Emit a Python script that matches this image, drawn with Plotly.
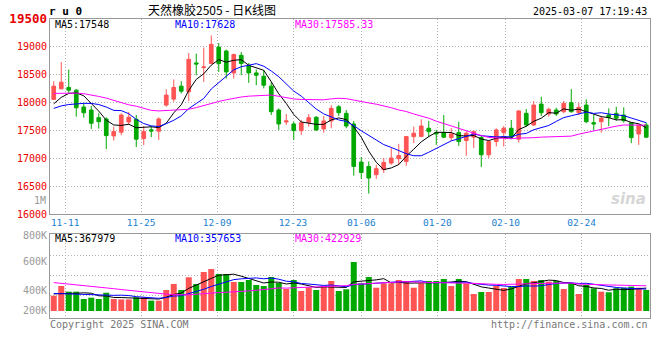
import plotly.graph_objects as go

# ---------------- data ----------------
dates = ["11-07", "11-08",
         "11-11", "11-12", "11-13", "11-14", "11-15",
         "11-18", "11-19", "11-20", "11-21", "11-22",
         "11-25", "11-26", "11-27", "11-28", "11-29",
         "12-02", "12-03", "12-04", "12-05", "12-06",
         "12-09", "12-10", "12-11", "12-12", "12-13",
         "12-16", "12-17", "12-18", "12-19", "12-20",
         "12-23", "12-24", "12-25", "12-26", "12-27",
         "12-30", "12-31", "01-02", "01-03",
         "01-06", "01-07", "01-08", "01-09", "01-10",
         "01-13", "01-14", "01-15", "01-16", "01-17",
         "01-20", "01-21", "01-22", "01-23", "01-24",
         "01-27", "02-05", "02-06", "02-07",
         "02-10", "02-11", "02-12", "02-13", "02-14",
         "02-17", "02-18", "02-19", "02-20", "02-21",
         "02-24", "02-25", "02-26", "02-27", "02-28",
         "03-03", "03-04", "03-05", "03-06", "03-07"]

opens = [18057, 18246, 18271, 18223, 17920, 17866, 17729, 17705, 17402, 17468,
         17652, 17700, 17354, 17510, 17486, 17955, 18062, 18295, 18193, 18711,
         18629, 18700, 18996, 18925, 18532, 18848, 18657, 18532, 18473, 18295,
         17866, 17652, 17616, 17497, 17647, 17736, 17527, 17670, 17925, 17807,
         17616, 16932, 16854, 16705, 16795, 16914, 16993, 16943, 17389, 17393,
         17539, 17461, 17461, 17371, 17461, 17318, 17379, 17371, 17063, 17300,
         17461, 17539, 17343, 17807, 17598, 17973, 17795, 17866, 17836, 17996,
         17818, 17955, 17639, 17657, 17777, 17807, 17777, 17639, 17437, 17598]
highs = [18384, 18729, 18593, 18241, 17996, 17938, 17807, 17736, 17568, 17807,
         17830, 17777, 17580, 17580, 17736, 18236, 18414, 18384, 18889, 18879,
         18986, 19205, 19068, 18950, 18879, 18907, 18711, 18593, 18580, 18371,
         17896, 17795, 17657, 17688, 17795, 17759, 17759, 17955, 17955, 17866,
         17670, 17021, 16943, 16884, 17004, 17182, 17259, 17389, 17568, 17700,
         17670, 17509, 17777, 17539, 17657, 17479, 17497, 17402, 17312, 17539,
         17580, 17688, 17866, 17884, 18027, 18104, 17907, 17907, 18032, 18241,
         17996, 18057, 17777, 17759, 17896, 17925, 17914, 17639, 17598, 17639]
lows = [18045, 18240, 18164, 17746, 17729, 17527, 17532, 17164, 17318, 17414,
        17598, 17200, 17236, 17380, 17330, 17925, 18014, 18164, 18027, 18491,
        18371, 18700, 18550, 18432, 18432, 18491, 18354, 18312, 18254, 17777,
        17509, 17598, 17330, 17420, 17568, 17491, 17461, 17539, 17759, 17539,
        16688, 16629, 16366, 16629, 16736, 16884, 16884, 16866, 17271, 17379,
        17379, 17241, 17361, 17312, 17223, 17045, 17182, 16843, 17004, 17211,
        17211, 17343, 17282, 17568, 17580, 17759, 17746, 17759, 17807, 17818,
        17777, 17629, 17497, 17461, 17580, 17675, 17639, 17271, 17241, 17361]
closes = [18295, 18366, 18223, 17907, 17818, 17629, 17657, 17407, 17479, 17777,
          17736, 17343, 17479, 17490, 17705, 18134, 18271, 18205, 18777, 18693,
          18639, 19045, 18700, 18550, 18861, 18700, 18532, 18491, 18312, 17836,
          17616, 17670, 17497, 17639, 17729, 17509, 17670, 17896, 17818, 17580,
          16854, 16746, 16646, 16813, 16925, 17004, 17050, 17389, 17450, 17580,
          17479, 17437, 17379, 17437, 17300, 17450, 17479, 17063, 17300, 17509,
          17539, 17379, 17848, 17598, 17955, 17818, 17879, 17795, 17986, 17836,
          17914, 17657, 17616, 17718, 17736, 17718, 17675, 17371, 17598, 17379]
volumes = [251000, 410000, 317000, 317000, 197000, 218000, 197000, 300000, 197000, 190000,
           190000, 225000, 225000, 170000, 170000, 344000, 443000, 344000, 553000, 443000,
           640000, 689000, 607000, 607000, 476000, 476000, 508000, 426000, 410000, 558000,
           459000, 361000, 508000, 328000, 389000, 344000, 410000, 492000, 328000, 356000,
           804000, 454000, 558000, 382000, 454000, 454000, 508000, 492000, 382000, 454000,
           492000, 492000, 525000, 410000, 525000, 454000, 279000, 312000, 312000, 410000,
           377000, 399000, 525000, 525000, 492000, 508000, 481000, 492000, 361000, 454000,
           279000, 426000, 372000, 317000, 307000, 372000, 382000, 399000, 382000, 344000]

# moving-average values before enough history is visible
ma5_early = [17979, 18093, 18164, 18175]
ma10_early = [17895, 17940, 17965, 17980, 17986, 17985, 17965, 17920, 17860]
ma30_early = [18164, 18170, 18175, 18170, 18160, 18140, 18110, 18080, 18040, 17990,
              17960, 17935, 17900, 17860, 17850, 17860, 17866, 17870, 17880, 17910,
              17950, 17990, 18020, 18050, 18080, 18100, 18115, 18125, 18134]
vma5_early = [280000, 288000, 290000, 290000]
vma10_early = [288000, 284000, 280000, 275000, 268000, 262000, 260000, 258000, 257000]
vma30_early = [466000, 455000, 444000, 433000, 421000, 408000, 394000, 380000, 366000, 352000,
               338000, 325000, 312000, 299000, 287000, 276000, 268000, 263000, 265000, 275000,
               287000, 296000, 302000, 307000, 312000, 320000, 330000, 340000, 350000]

date_tick_labels = ["11-11", "11-25", "12-09", "12-23", "01-06", "01-20", "02-10", "02-24"]
price_ticks = [16000, 16500, 17000, 17500, 18000, 18500, 19000, 19500]
vol_tick_labels = ["800K", "600K", "400K", "200K"]

title_text = "天然橡胶2505 - 日K线图"
symbol_text = "r u 0"
time_text = "2025-03-07 17:19:43"
ma_price_text = ["MA5:17548", "MA10:17628", "MA30:17585.33"]
ma_vol_text = ["MA5:367979", "MA10:357653", "MA30:422929"]

# ---------------- helpers ----------------
def moving_avg(vals, n, early):
    out = []
    for i in range(len(vals)):
        if i >= n - 1:
            out.append(sum(vals[i - n + 1:i + 1]) / n)
        else:
            out.append(early[i])
    return out

N = len(dates)
x = list(range(N))

W, H = 660, 360
ML, MR, MT, MB = 50, 10, 19, 42
PW = W - ML - MR
PH = H - MT - MB


def pxx(px):
    return (px - ML) / PW


def pxy(py):
    return (H - MB - py) / PH


RED = "#ff5454"
GREEN = "#00a800"
BLUE = "#0000ff"
MAG = "#ff00ff"
GRID = "#b4b4b4"
BORDER = "#999999"
MONO = "DejaVu Sans Mono"
CJK = "Noto Sans CJK SC"

# volume pane pixel scale
VOL_PER_PX = 16400.0
VOL_BASE_PY = 311.0


def vol_at(py):
    return (VOL_BASE_PY - py) * VOL_PER_PX


vol_range = [vol_at(318), vol_at(234.3)]
vol_tick_vals = [vol_at(235.5), vol_at(261), vol_at(290.3), vol_at(310)]
vol_grid_vals = [vol_at(255.3), vol_at(275.3), vol_at(295.7)]

# date grid positions (reference spaces them over N-1 steps)
date_pos = [dates.index(d) * N / (N - 1) - 0.5 for d in date_tick_labels]

ma5 = moving_avg(closes, 5, ma5_early)
ma10 = moving_avg(closes, 10, ma10_early)
ma30 = moving_avg(closes, 30, ma30_early)
vma5 = moving_avg(volumes, 5, vma5_early)
vma10 = moving_avg(volumes, 10, vma10_early)
vma30 = moving_avg(volumes, 30, vma30_early)

vol_colors = [RED if c >= o else GREEN for o, c in zip(opens, closes)]

fig = go.Figure()
fig.add_trace(go.Candlestick(
    x=x, open=opens, high=highs, low=lows, close=closes,
    increasing=dict(line=dict(color=RED, width=1), fillcolor=RED),
    decreasing=dict(line=dict(color=GREEN, width=1), fillcolor=GREEN),
    whiskerwidth=0, xaxis="x", yaxis="y", hoverinfo="skip"))
for ser, col in [(ma5, "#000000"), (ma10, BLUE), (ma30, MAG)]:
    fig.add_trace(go.Scatter(x=x, y=ser, mode="lines", line=dict(color=col, width=1),
                             xaxis="x", yaxis="y", hoverinfo="skip"))
fig.add_trace(go.Bar(x=x, y=volumes, marker=dict(color=vol_colors, line=dict(width=0)),
                     width=0.8, xaxis="x2", yaxis="y2", hoverinfo="skip"))
for ser, col in [(vma5, "#000000"), (vma10, BLUE), (vma30, MAG)]:
    fig.add_trace(go.Scatter(x=x, y=ser, mode="lines", line=dict(color=col, width=1),
                             xaxis="x2", yaxis="y2", hoverinfo="skip"))

price_ticktext = [str(v) for v in price_ticks]
price_ticktext[-1] = "<span style='font-size:12.5px;font-weight:bold'>%d</span>" % price_ticks[-1]

axis_common = dict(showline=True, mirror=True, linecolor=BORDER, linewidth=1,
                   zeroline=False, ticks="", fixedrange=True, automargin=False)

fig.update_layout(
    width=W, height=H,
    margin=dict(l=ML, r=MR, t=MT, b=MB, autoexpand=False),
    paper_bgcolor="white", plot_bgcolor="white",
    showlegend=False,
    boxgap=0.3,
    xaxis=dict(domain=[0, 1], anchor="y", range=[-0.5, N - 0.5],
               tickmode="array", tickvals=date_pos, ticktext=date_tick_labels,
               tickfont=dict(family=MONO, size=9.5, color="#1a7fd0"),
               showgrid=True, gridcolor=GRID, griddash="1px,2px", gridwidth=1,
               rangeslider=dict(visible=False), **axis_common),
    yaxis=dict(domain=[pxy(214), 1.0], anchor="x", range=[16000, 19500],
               tickmode="array", tickvals=price_ticks, ticktext=price_ticktext,
               tickfont=dict(family=MONO, size=10, color="#e80000"),
               showgrid=True, gridcolor=GRID, griddash="1px,2px", gridwidth=1,
               **axis_common),
    xaxis2=dict(domain=[0, 1], anchor="y2", range=[-0.5, N - 0.5],
                tickmode="array", tickvals=date_pos, showticklabels=False,
                showgrid=True, gridcolor=GRID, griddash="1px,2px", gridwidth=1,
                **axis_common),
    yaxis2=dict(domain=[0, pxy(234.3)], anchor="x2", range=vol_range,
                tickmode="array", tickvals=vol_tick_vals, ticktext=vol_tick_labels,
                tickfont=dict(family=MONO, size=10, color="#9a9a9a"),
                showgrid=False,
                minor=dict(tickmode="array", tickvals=vol_grid_vals, showgrid=True,
                           gridcolor=GRID, griddash="1px,2px", gridwidth=1, ticks=""),
                **axis_common),
)

ann = []


def add_text(text, px, py, xanchor="left", size=10, color="#000", family=MONO):
    ann.append(dict(text=text, x=pxx(px), y=pxy(py), xref="paper", yref="paper",
                    xanchor=xanchor, yanchor="middle", showarrow=False,
                    font=dict(family=family, size=size, color=color)))


add_text("<b>%s</b>" % symbol_text, 47, 11.5, size=11, color="#000")
add_text(title_text, 212, 9, xanchor="center", size=12, color="#000", family=CJK)
add_text(time_text, 649, 11, xanchor="right", size=10, color="#000")
for t, px, col in zip(ma_price_text, [53, 173, 293], ["#000000", BLUE, MAG]):
    add_text(t, px, 24.5, size=10, color=col)
for t, px, col in zip(ma_vol_text, [53, 173, 293], ["#000000", BLUE, MAG]):
    add_text(t, px, 238.5, size=10, color=col)
add_text("1M", 48, 200.7, xanchor="right", size=10, color="#9a9a9a")
add_text("Copyright 2025 SINA.COM", 48, 324.5, size=10, color="#777777")
add_text("http://finance.sina.com.cn", 650, 324.5, xanchor="right", size=10, color="#777777")
add_text("<i><b>sina</b></i>", 648, 199, xanchor="right", size=15, color="#d6d6d6",
         family="DejaVu Sans")
fig.update_layout(annotations=ann)

fig.write_html("out.html", config={"displayModeBar": False},
               post_script="document.body.style.margin='0';")
